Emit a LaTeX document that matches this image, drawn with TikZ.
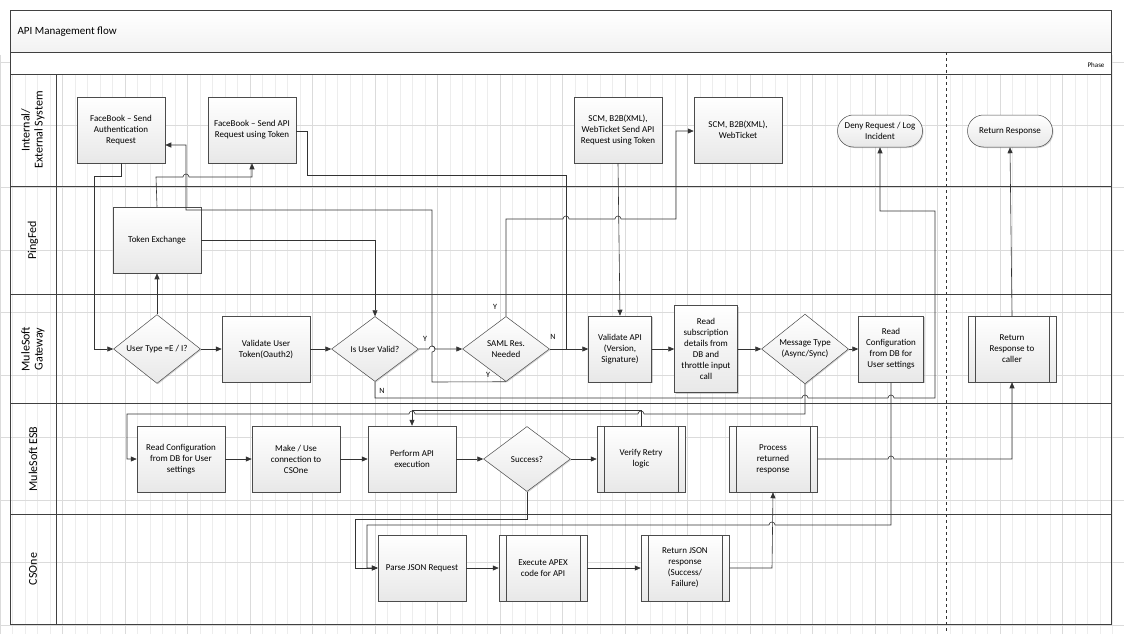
\documentclass[tikz,border=0pt]{standalone}
\usepackage{fontspec}
\setmainfont{Carlito}
\usetikzlibrary{shapes.geometric,shapes.misc,arrows.meta,shadows}
\begin{document}
\begin{tikzpicture}[x=1pt,y=-1pt,
  ln/.style={draw=black!80,line width=0.6pt},
  ar/.style={ln,-{Triangle[length=6pt,width=5pt]}},
  base/.style={draw=black!70,line width=0.5pt,top color=white,bottom color=gray!18,
     drop shadow={shadow xshift=1pt,shadow yshift=-1pt,opacity=.35},font=\fontsize{9}{11}\selectfont,align=center},
  box/.style={base,rectangle,minimum width=88pt,minimum height=66pt,inner sep=1pt},
  sbox/.style={box,minimum width=63pt},
  sub/.style={box,path picture={\draw[black!70,line width=0.5pt]
     ([xshift=7pt]path picture bounding box.north west)--([xshift=7pt]path picture bounding box.south west)
     ([xshift=-7pt]path picture bounding box.north east)--([xshift=-7pt]path picture bounding box.south east);}},
  dia/.style={base,diamond,minimum width=87pt,minimum height=65pt,inner sep=0pt},
  oval/.style={base,rounded rectangle,minimum width=87pt,minimum height=32pt,inner sep=1pt},
  lane/.style={font=\fontsize{12}{13}\selectfont,align=center,rotate=90},
  lbl/.style={font=\fontsize{8}{9}\selectfont}]
\useasboundingbox (0,0) rectangle (1124,634);
\fill[white] (0,0) rectangle (1124,634);
% grid
\draw[gray!14,line width=0.3pt] (0,55) grid[step=12.5] (1124,634);
\foreach \x in {0,62.5,...,1124}{\draw[gray!28,line width=0.4pt] (\x,55)--(\x,634);}
\foreach \y in {62.5,125,...,634}{\draw[gray!28,line width=0.4pt] (0,\y)--(1124,\y);}
% frame
\fill[top color=white,bottom color=gray!10] (10,10) rectangle (1111,52);
\fill[white] (10,52) rectangle (1111,74);
\draw[black!75,line width=0.8pt] (10,10) rectangle (1111,624);
\draw[black!75,line width=0.8pt] (10,52)--(1111,52) (10,74)--(1111,74);
\node[anchor=west,font=\fontsize{11}{12}\selectfont] (title) at (14,32) {API Management flow};
\node[anchor=east,font=\fontsize{7}{8}\selectfont] (phase) at (1108,65) {Phase};
\draw[black!75,line width=0.8pt] (56,74)--(56,624);
\foreach \y in {186,294,403,514}{\draw[black!75,line width=0.8pt] (10,\y)--(1111,\y);}
\draw[black!80,dashed,line width=0.7pt] (946,52)--(946,634);
\node[lane] (l1) at (33,130) {Internal/\\External System};
\node[lane] (l2) at (33,240) {PingFed};
\node[lane] (l3) at (33,349) {MuleSoft\\Gateway};
\node[lane] (l4) at (33,459) {MuleSoft ESB};
\node[lane] (l5) at (33,569) {CSOne};
% nodes
\node[box] (fba) at (121,130) {FaceBook -- Send\\Authentication\\Request};
\node[box] (fbr) at (252,130) {FaceBook -- Send API\\Request using Token};
\node[box] (scm) at (618,130) {SCM, B2B(XML),\\WebTicket Send API\\Request using Token};
\node[box] (scw) at (738,130) {SCM, B2B(XML),\\WebTicket};
\node[oval] (deny) at (880,131) {Deny Request / Log\\Incident};
\node[oval] (ret) at (1010,131) {Return Response};
\node[box] (tok) at (157,240) {Token Exchange};
\node[dia] (ut) at (157,349) {User Type =E / I?};
\node[box] (vut) at (266,349) {Validate User\\Token(Oauth2)};
\node[dia] (iv) at (375,349) {Is User Valid?};
\node[dia] (saml) at (506,349) {SAML Res.\\Needed};
\node[sbox] (vapi) at (620,349) {Validate API\\(Version,\\Signature)};
\node[sbox,minimum height=87pt] (rsub) at (706,349) {Read\\subscription\\details from\\DB and\\throttle input\\call};
\node[dia] (mt) at (805,349) {Message Type\\(Async/Sync)};
\node[sbox,minimum width=65pt] (rcg) at (891,349) {Read\\Configuration\\from DB for\\User settings};
\node[sub] (rrc) at (1012,349) {Return\\Response to\\caller};
\node[box] (rce) at (181,459) {Read Configuration\\from DB for User\\settings};
\node[box] (mk) at (296,459) {Make / Use\\connection to\\CSOne};
\node[box] (pe) at (412,459) {Perform API\\execution};
\node[dia] (suc) at (527,459) {Success?};
\node[sub] (vr) at (641,459) {Verify Retry\\logic};
\node[sub] (pr) at (773,459) {Process\\returned\\response};
\node[box] (pj) at (422,568) {Parse JSON Request};
\node[sub] (ex) at (543,568) {Execute APEX\\code for API};
\node[sub] (rj) at (685,568) {Return JSON\\response\\(Success/\\Failure)};
% connectors
\draw[ar] (fba.south) -- (121,176) -- (94,176) -- (94,349) -- (ut.west);
\draw[ar] (ut.north) -- (tok.south);
\draw[ar] (tok.north) -- (156,177) -- (183,177) arc[start angle=180,end angle=0,radius=3pt] -- (252,177) -- (fbr.south);
\draw[ar] (saml.south) -- (432,382) -- (432,352) arc[start angle=-90,end angle=90,radius=3pt] -- (432,210) -- (186,210) -- (186,145) -- (fba.east |- 0,145);
\draw[ar] (tok.east) -- (375,240) -- (iv.north);
\draw[ar] (ut.east) -- (vut.west);
\draw[ar] (vut.east) -- (iv.west);
\draw[ar] (iv.east) -- (429,349) arc[start angle=180,end angle=0,radius=3pt] -- (saml.west);
\draw[ar] (fbr.east |- 0,131) -- (307,131) -- (307,175) -- (566,175) -- (566,349) -- (vapi.west);
\draw[ln] (saml.east) -- (566,349);
\draw[ar] (saml.north) -- (506,219) -- (563,219) arc[start angle=180,end angle=0,radius=3pt] -- (615,219) arc[start angle=180,end angle=0,radius=3pt] -- (676,219) -- (676,131) -- (scw.west |- 0,131);
\draw[ar] (scm.south) -- (vapi.north);
\draw[ar] (vapi.east) -- (rsub.west);
\draw[ar] (rsub.east) -- (mt.west);
\draw[ar] (mt.east) -- (rcg.west);
\draw[ar] (iv.south) -- (375,398) -- (802,398) arc[start angle=180,end angle=0,radius=3pt] -- (888,398) arc[start angle=180,end angle=0,radius=3pt] -- (935,398) -- (935,211) -- (880,211) -- (deny.south);
\draw[ar] (mt.south) -- (805,414) -- (644,414) arc[start angle=0,end angle=180,radius=3pt] -- (415,414) arc[start angle=0,end angle=180,radius=3pt] -- (127,414) -- (127,459) -- (rce.west);
\draw[ar] (vr.north) -- (641,410) -- (412,410) -- (pe.north);
\draw[ar] (rce.east) -- (mk.west);
\draw[ar] (mk.east) -- (pe.west);
\draw[ar] (pe.east) -- (suc.west);
\draw[ar] (suc.east) -- (vr.west);
\draw[ar] (suc.south) -- (527,519) -- (355,519) -- (355,568) -- (pj.west);
\draw[ar] (rcg.south) -- (891,525) -- (775,525) arc[start angle=0,end angle=180,radius=3pt] -- (367,525) -- (367,568) -- (pj.west);
\draw[ar] (pj.east) -- (ex.west);
\draw[ar] (ex.east) -- (rj.west);
\draw[ar] (rj.east) -- (772,568) -- (pr.south);
\draw[ar] (pr.east) -- (888,459) arc[start angle=180,end angle=0,radius=3pt] -- (1012,459) -- (rrc.south);
\draw[ar] (rrc.north) -- (ret.south);
% labels
\node[lbl] (y1) at (425,339) {Y};
\node[lbl] (n1) at (382,391) {N};
\node[lbl] (y2) at (495,307) {Y};
\node[lbl] (n2) at (553,337) {N};
\node[lbl] (y3) at (488,375) {Y};
\end{tikzpicture}
\end{document}
